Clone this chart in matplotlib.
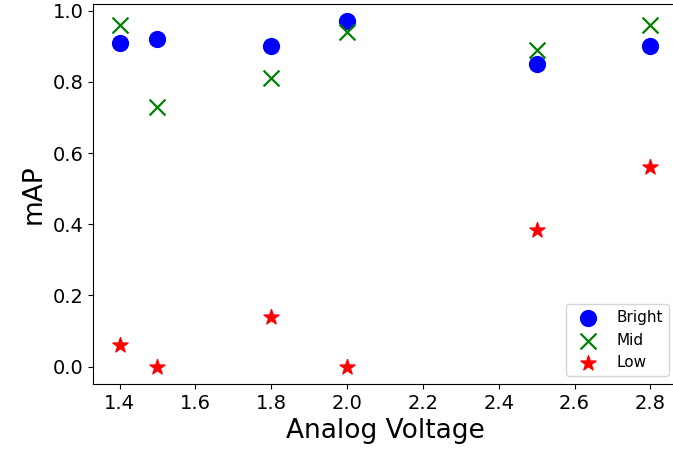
import matplotlib
matplotlib.use("Agg")
import matplotlib.pyplot as plt

# 데이터
voltage = [1.4, 1.5, 1.8, 2.0, 2.5, 2.8]
bright = [0.91, 0.92, 0.90, 0.97, 0.85, 0.90]
mid = [0.96, 0.73, 0.81, 0.94, 0.89, 0.96]
low = [0.06, 0.00, 0.14, 0.00, 0.385, 0.56]

fig = plt.figure(figsize=(6.73, 4.55), dpi=100)
ax = fig.add_axes([93 / 673, 71 / 455, 584 / 673, 380 / 455])

ax.scatter(voltage, bright, s=130, color="blue", marker="o", label="Bright")
ax.scatter(voltage, mid, s=130, color="green", marker="x", linewidths=1.6, label="Mid")
ax.scatter(voltage, low, s=130, color="red", marker="*", label="Low")

ax.set_xlim(1.33, 2.87)
ax.set_ylim(-0.0485, 1.0185)
ax.set_xticks([1.4, 1.6, 1.8, 2.0, 2.2, 2.4, 2.6, 2.8])
ax.tick_params(labelsize=14)
ax.set_xlabel("Analog Voltage", fontsize=19)
ax.set_ylabel("mAP", fontsize=19)
ax.legend(loc="lower right", fontsize=11, handletextpad=0.9)

fig.savefig("out.png", dpi=100)
